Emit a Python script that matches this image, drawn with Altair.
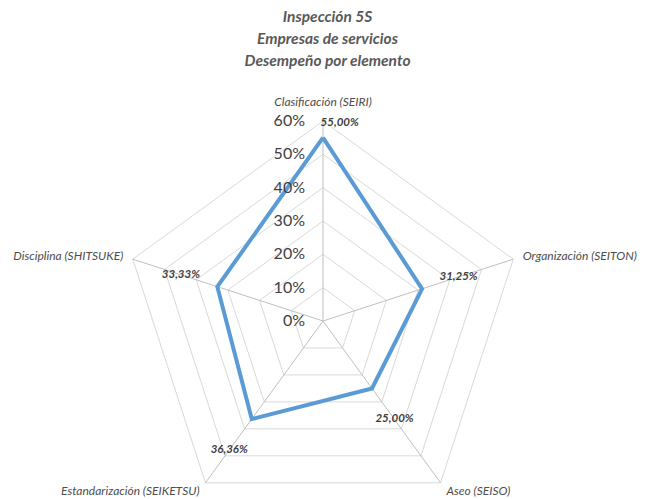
import altair as alt
import pandas as pd

# ---- data ----
categories = [
    "Clasificación (SEIRI)",
    "Organización (SEITON)",
    "Aseo (SEISO)",
    "Estandarización (SEIKETSU)",
    "Disciplina (SHITSUKE)",
]
values = [0.55, 0.3125, 0.25, 0.3636, 0.3333]
value_labels = ["55,00%", "31,25%", "25,00%", "36,36%", "33,33%"]
levels = [0.0, 0.1, 0.2, 0.3, 0.4, 0.5, 0.6]
level_labels = ["0%", "10%", "20%", "30%", "40%", "50%", "60%"]
title_lines = ["Inspección 5S", "Empresas de servicios", "Desempeño por elemento"]

n = len(categories)
rmax = max(levels)

series = pd.DataFrame({
    "idx": list(range(n + 1)),
    "category": categories + [categories[0]],
    "value": values + [values[0]],
})
points = pd.DataFrame({"idx": list(range(n)), "category": categories,
                       "value": values, "label": value_labels})
rings = pd.DataFrame([{"level": lv, "idx": i} for lv in levels[1:] for i in range(n + 1)])
spokes = pd.DataFrame({"idx": list(range(n)), "level": [rmax] * n})
ticks = pd.DataFrame({"level": levels, "label": level_labels})

ANG = f"2*PI*(datum.idx % {n})/{n}"

xs = alt.Scale(domain=[-0.969, 0.996], nice=False, zero=False)
ys = alt.Scale(domain=[-0.534, 0.753], nice=False, zero=False)


def X(f):
    return alt.X(f"{f}:Q", scale=xs, axis=None)


def Y(f):
    return alt.Y(f"{f}:Q", scale=ys, axis=None)


ring_layer = alt.Chart(rings).transform_calculate(
    a=ANG, x="datum.level*sin(datum.a)", y="datum.level*cos(datum.a)"
).mark_line(color="#d9d9d9", strokeWidth=1).encode(
    x=X("x"), y=Y("y"), detail="level:N", order="idx:Q"
)

spoke_layer = alt.Chart(spokes).transform_calculate(
    a=ANG, x="datum.level*sin(datum.a)", y="datum.level*cos(datum.a)", z="0"
).mark_rule(color="#bfbfbf", strokeWidth=1).encode(
    x=X("z"), y=Y("z"), x2="x:Q", y2="y:Q"
)

line_layer = alt.Chart(series).transform_calculate(
    a=ANG, x="datum.value*sin(datum.a)", y="datum.value*cos(datum.a)"
).mark_line(color="#5B9BD5", strokeWidth=4).encode(
    x=X("x"), y=Y("y"), order="idx:Q"
)

value_text = alt.Chart(points).transform_calculate(
    a=ANG,
    rl="min(datum.value + 0.115, 0.595)",
    x="datum.rl*sin(datum.a) + (datum.idx == 0 ? 0.05 : 0)",
    y="datum.rl*cos(datum.a)",
).mark_text(font="Lato", fontSize=11.5, fontStyle="italic", fontWeight="bold",
            color="#404040").encode(x=X("x"), y=Y("y"), text="label:N")

cat_base = alt.Chart(points).transform_calculate(
    a=ANG, x="0.63*sin(datum.a)", y="0.63*cos(datum.a)", s="sin(datum.a)"
)
cat_style = dict(font="Lato", fontSize=12, fontStyle="italic", color="#4d4d4d")
cat_left = cat_base.transform_filter("datum.s > 0.1").mark_text(
    align="left", baseline="middle", **cat_style).encode(x=X("x"), y=Y("y"), text="category:N")
cat_right = cat_base.transform_filter("datum.s < -0.1").mark_text(
    align="right", baseline="middle", **cat_style).encode(x=X("x"), y=Y("y"), text="category:N")
cat_top = cat_base.transform_filter("abs(datum.s) <= 0.1").mark_text(
    align="center", baseline="bottom", dy=-2, **cat_style).encode(x=X("x"), y=Y("y"), text="category:N")

tick_text = alt.Chart(ticks).transform_calculate(z="0").mark_text(
    align="right", baseline="middle", dx=-18, font="Lato", fontSize=16, color="#404040"
).encode(x=X("z"), y=Y("level"), text="label:N")

chart = alt.layer(
    ring_layer, spoke_layer, line_layer, tick_text, value_text, cat_left, cat_right, cat_top
).properties(
    width=655,
    height=429,
    padding={"left": 0, "right": 0, "top": 70, "bottom": 0},
    autosize=alt.AutoSizeParams(type="none"),
    title=alt.TitleParams(
        text=title_lines, anchor="middle", frame="group", font="Lato", fontSize=15.5,
        fontStyle="italic", fontWeight="bold", color="#595959", lineHeight=22, offset=1,
    ),
).configure_view(stroke=None)

chart.save("out.html", embed_options={"renderer": "svg", "actions": False})
